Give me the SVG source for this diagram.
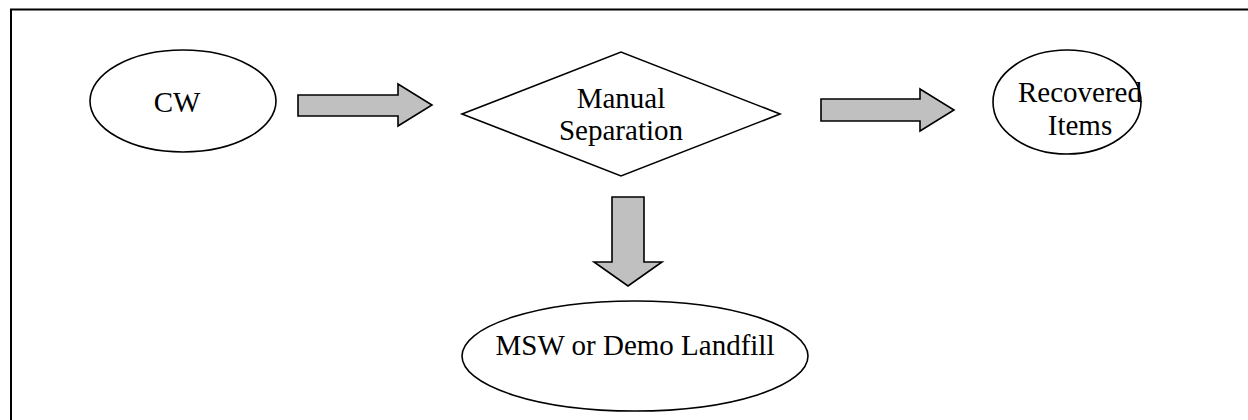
<svg xmlns="http://www.w3.org/2000/svg" width="1248" height="420" viewBox="0 0 1248 420">
  <style>
    .shape { fill: #ffffff; stroke: #000000; stroke-width: 1.6; }
    .arrow { fill: #c0c0c0; stroke: #000000; stroke-width: 1.6; stroke-linejoin: miter; }
    .label { font-family: "Liberation Serif", "Times New Roman", serif; font-size: 29px; fill: #000000; text-anchor: middle; }
  </style>
  <rect x="0" y="0" width="1248" height="420" fill="#ffffff"/>
  <!-- page frame -->
  <rect x="11" y="9.5" width="1260" height="430" fill="none" stroke="#000000" stroke-width="2"/>

  <g id="node-cw">
    <ellipse class="shape" cx="183" cy="101" rx="93" ry="51"/>
    <text class="label" x="177" y="112">CW</text>
  </g>

  <g id="node-separation">
    <polygon class="shape" points="462,114 621,52 780,114 621,176"/>
    <text class="label" x="621" y="108">Manual</text>
    <text class="label" x="621" y="140">Separation</text>
  </g>

  <g id="node-recovered">
    <ellipse class="shape" cx="1067" cy="102" rx="74" ry="52"/>
    <text class="label" x="1080" y="102">Recovered</text>
    <text class="label" x="1080" y="135">Items</text>
  </g>

  <g id="node-landfill">
    <ellipse class="shape" cx="635" cy="356" rx="173" ry="55"/>
    <text class="label" x="635" y="355">MSW or Demo Landfill</text>
  </g>

  <g id="connectors">
    <polygon class="arrow" points="298,95 398,95 398,84 432,105 398,126 398,116 298,116"/>
    <polygon class="arrow" points="821,99 920,99 920,89 954,110 920,131 920,121 821,121"/>
    <polygon class="arrow" points="612,197 644,197 644,262 662,262 628,286 594,262 612,262"/>
  </g>
</svg>
